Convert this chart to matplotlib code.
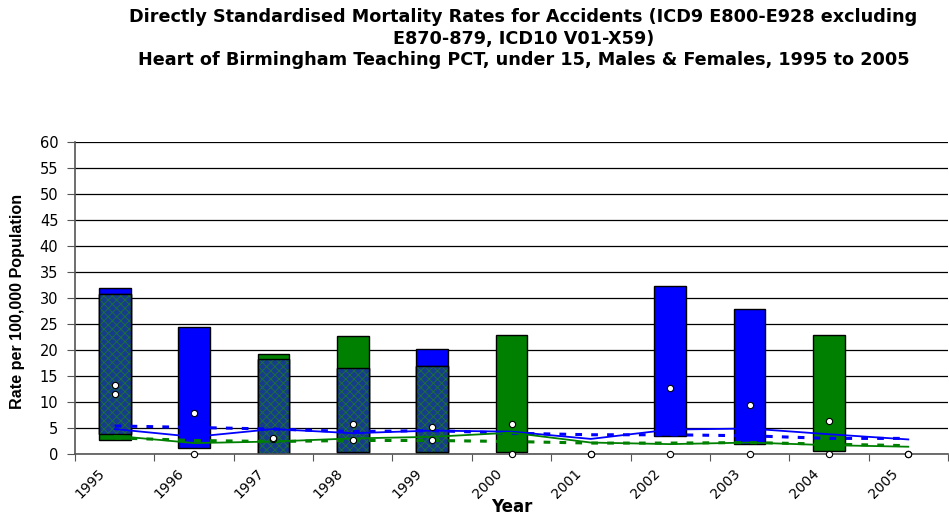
import numpy as np
import matplotlib
matplotlib.use("Agg")
import matplotlib.pyplot as plt
import matplotlib.transforms as mtransforms

plt.rcParams['font.family'] = ['DejaVu Sans']
plt.rcParams['hatch.linewidth'] = 0.7

# ==== Data ====
years = ['1995', '1996', '1997', '1998', '1999', '2000', '2001', '2002', '2003', '2004', '2005']

male_rate = [13.3, 7.9, 2.9, 2.6, 5.2, 0, 0, 12.6, 9.4, 0, 0]
male_lo = [3.8, 1.2, 0.07, 0.07, 0.3, 0, 0, 3.5, 1.9, 0, 0]
male_hi = [32.0, 24.4, 18.3, 16.5, 20.2, 0, 0, 32.4, 27.8, 0, 0]

female_rate = [11.5, 0, 3.0, 5.8, 2.6, 5.8, 0, 0, 0, 6.3, 0]
female_lo = [2.7, 0, 0.07, 0.3, 0.07, 0.3, 0, 0, 0, 0.6, 0]
female_hi = [30.7, 0, 19.2, 22.6, 16.9, 22.8, 0, 0, 0, 22.9, 0]

male_region = [4.8, 3.3, 4.8, 4.0, 4.5, 4.3, 2.9, 4.7, 4.9, 3.8, 2.8]
male_england = [5.4, 5.1, 4.8, 4.3, 4.5, 4.0, 3.7, 3.7, 3.5, 3.0, 3.0]
female_region = [3.5, 2.1, 2.4, 3.0, 3.3, 4.1, 2.2, 1.9, 2.2, 1.7, 1.4]
female_england = [3.1, 2.6, 2.4, 2.6, 2.6, 2.4, 2.1, 2.1, 2.2, 1.9, 1.6]

blue = '#0000FF'
green = '#008000'
overlap = '#163c8e'

fig = plt.figure(figsize=(9.49, 5.23), dpi=100)
ax = fig.add_axes([75 / 949, 1 - 454 / 523, 873 / 949, 312 / 523])

x = np.arange(len(years)) + 0.5
w = 0.4

# ---- confidence interval bars
for i in range(len(years)):
    if male_hi[i] > male_lo[i]:
        ax.bar(x[i], male_hi[i] - male_lo[i], w, bottom=male_lo[i],
               color=blue, edgecolor='black', linewidth=1, zorder=2)
    if female_hi[i] > female_lo[i]:
        ax.bar(x[i], female_hi[i] - female_lo[i], w, bottom=female_lo[i],
               color=green, edgecolor='black', linewidth=1, zorder=2)
    lo = max(male_lo[i], female_lo[i])
    hi = min(male_hi[i], female_hi[i])
    if hi > lo and male_hi[i] > 0 and female_hi[i] > 0:
        ax.bar(x[i], hi - lo, w, bottom=lo, color=overlap,
               edgecolor='#1b6d3a', hatch='xxxx', linewidth=0, zorder=2.1)
        ax.bar(x[i], hi - lo, w, bottom=lo, fill=False,
               edgecolor='black', linewidth=1, zorder=2.2)

# ---- comparison lines
ax.plot(x, male_region, color=blue, lw=1.3, zorder=3)
ax.plot(x, male_england, color=blue, lw=2.2, dashes=(2.2, 3), zorder=3)
ax.plot(x, female_region, color=green, lw=1.3, zorder=3)
ax.plot(x, female_england, color=green, lw=2.2, dashes=(2.2, 3), zorder=3)

# ---- rates
ax.plot(x, male_rate, 'o', ms=4.5, mfc='white', mec='black', mew=0.8,
        zorder=5, clip_on=False)
ax.plot(x, female_rate, 'o', ms=4.5, mfc='white', mec='black', mew=0.8,
        zorder=5, clip_on=False)

# ==== Axes ====
ax.set_xlim(0, len(years))
ax.set_ylim(0, 60)
ax.set_yticks(np.arange(0, 61, 5))
ax.yaxis.grid(True, color='black', lw=0.9)
ax.set_axisbelow(True)
for s in ['top', 'right']:
    ax.spines[s].set_visible(False)
ax.spines['left'].set_color('#555555')
ax.spines['bottom'].set_color('#555555')
ax.spines['left'].set_linewidth(1.2)
ax.spines['bottom'].set_linewidth(1.2)

ax.set_xticks(np.arange(0, len(years) + 1))
ax.set_xticklabels([])
ax.set_xticks(x, minor=True)
ax.set_xticklabels(years, minor=True, rotation=45, ha='right', va='center',
                   rotation_mode='anchor', fontsize=10)
ax.tick_params(axis='x', which='major', length=5, color='#555555', direction='out')
ax.tick_params(axis='x', which='minor', length=0, pad=14)
ax.tick_params(axis='y', length=6, color='#555555', labelsize=10.5, pad=6)

offset = mtransforms.ScaledTranslation(-0.12, 0.02, fig.dpi_scale_trans)
for lab in ax.get_xticklabels(minor=True):
    lab.set_transform(lab.get_transform() + offset)

ax.set_xlabel('Year', fontsize=12, fontweight='bold')
ax.xaxis.set_label_coords(0.5, -0.142)
ax.set_ylabel('Rate per 100,000 Population', fontsize=11.6, fontweight='bold',
              family=['Liberation Sans', 'DejaVu Sans'])
ax.yaxis.set_label_coords(-0.057, 0.489)

# ==== Titles ====
title_lines = [
    'Directly Standardised Mortality Rates for Accidents (ICD9 E800-E928 excluding',
    'E870-879, ICD10 V01-X59)',
    'Heart of Birmingham Teaching PCT, under 15, Males & Females, 1995 to 2005',
]
for k, line in enumerate(title_lines):
    fig.text(0.5516, 1 - [17, 39, 60][k] / 523, line,
             ha='center', va='center', fontsize=12.7, fontweight='bold')

fig.savefig('out.png', dpi=100)
